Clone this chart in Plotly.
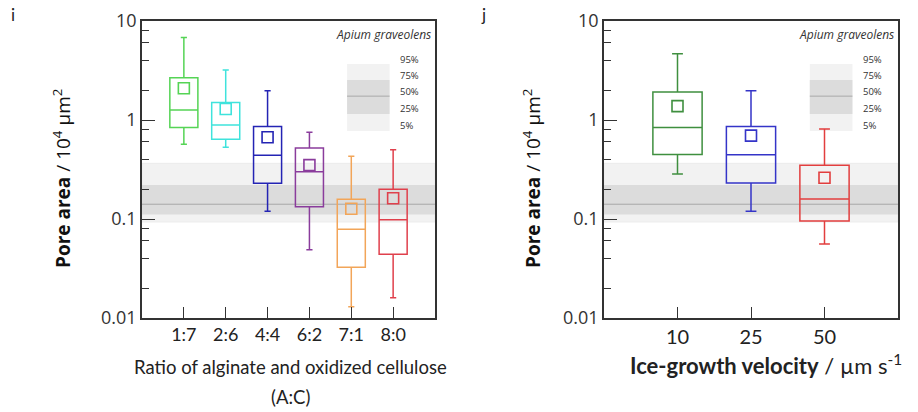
import plotly.graph_objects as go

# ---------------- data ----------------
ratio_labels = ["1:7", "2:6", "4:4", "6:2", "7:1", "8:0"]
ratio_upper = [6.8, 3.2, 1.98, 0.75, 0.43, 0.50]
ratio_q3 = [2.67, 1.50, 0.86, 0.52, 0.158, 0.20]
ratio_median = [1.26, 0.89, 0.44, 0.30, 0.079, 0.098]
ratio_q1 = [0.84, 0.64, 0.23, 0.133, 0.0325, 0.044]
ratio_lower = [0.57, 0.53, 0.12, 0.049, 0.013, 0.016]
ratio_mean = [2.09, 1.29, 0.67, 0.35, 0.127, 0.162]
ratio_colors = ["#55d455", "#3fe3dc", "#2424b4", "#8a3c9c", "#f2a559", "#e0404c"]

velocity_labels = ["10", "25", "50"]
velocity_upper = [4.67, 1.98, 0.81]
velocity_q3 = [1.92, 0.86, 0.35]
velocity_median = [0.84, 0.445, 0.159]
velocity_q1 = [0.447, 0.231, 0.0955]
velocity_lower = [0.285, 0.12, 0.056]
velocity_mean = [1.38, 0.695, 0.261]
velocity_colors = ["#3f8f3f", "#3434c8", "#e23e3e"]

# Apium graveolens reference percentiles: 5%, 25%, 50%, 75%, 95%
ref_labels = ["5%", "25%", "50%", "75%", "95%"]
ref_values = [0.093, 0.111, 0.141, 0.22, 0.365]

y_tick_vals = [0.01, 0.1, 1, 10]
y_tick_text = ["0.01", "0.1", "1", "10"]
y_minor_vals = [m * d for d in (0.01, 0.1, 1) for m in (2, 4, 6, 8)]

W, H = 918, 412
fig = go.Figure()

panels = [
    dict(xa="x", ya="y", labels=ratio_labels, upper=ratio_upper, q3=ratio_q3,
         med=ratio_median, q1=ratio_q1, lower=ratio_lower, mean=ratio_mean,
         colors=ratio_colors, dom=[142 / W, 435 / W], xfs=18),
    dict(xa="x2", ya="y2", labels=velocity_labels, upper=velocity_upper, q3=velocity_q3,
         med=velocity_median, q1=velocity_q1, lower=velocity_lower, mean=velocity_mean,
         colors=velocity_colors, dom=[604 / W, 898 / W], xfs=20),
]

ydom = [1 - 318 / H, 1 - 21 / H]

for p in panels:
    n = len(p["labels"])
    pos = list(range(1, n + 1))
    for i in range(n):
        c = p["colors"][i]
        fig.add_trace(go.Box(
            x=[pos[i]], q1=[p["q1"][i]], median=[p["med"][i]], q3=[p["q3"][i]],
            lowerfence=[p["lower"][i]], upperfence=[p["upper"][i]],
            width=0.67, whiskerwidth=0.22, boxpoints=False,
            line=dict(color=c, width=1.5), fillcolor="rgba(0,0,0,0)",
            xaxis=p["xa"], yaxis=p["ya"], showlegend=False, hoverinfo="skip"))
        fig.add_trace(go.Scatter(
            x=[pos[i]], y=[p["mean"][i]], mode="markers",
            marker=dict(symbol="square-open", size=11, color=c, line=dict(width=1.6, color=c)),
            xaxis=p["xa"], yaxis=p["ya"], showlegend=False, hoverinfo="skip"))

    axn = p["xa"][1:]
    xkey = "xaxis" + axn
    ykey = "yaxis" + axn
    fig.update_layout(**{
        xkey: dict(domain=p["dom"], range=[0, n + 1], tickmode="array", tickvals=pos,
                   ticktext=p["labels"], ticks="inside", ticklen=11, tickwidth=1.3,
                   tickcolor="#333", showline=True, mirror=True, linecolor="#333",
                   linewidth=1.5, showgrid=False, zeroline=False, anchor=p["ya"],
                   automargin=False,
                   tickfont=dict(family="Lato", size=p["xfs"], color="#222")),
        ykey: dict(domain=ydom, type="log", range=[-2, 1], tickmode="array",
                   tickvals=y_tick_vals, ticktext=y_tick_text, ticks="inside",
                   ticklen=13, tickwidth=1.3, tickcolor="#333", showline=True,
                   mirror=True, linecolor="#333", linewidth=1.5, showgrid=False,
                   zeroline=False, anchor=p["xa"], automargin=False,
                   minor=dict(tickmode="array", tickvals=y_minor_vals, ticks="inside",
                              ticklen=7, tickwidth=1.1, tickcolor="#333"),
                   tickfont=dict(family="Open Sans", size=18, color="#333")),
    })

    xr = p["xa"]
    yr = p["ya"]
    # reference bands
    fig.add_shape(type="rect", xref=xr + " domain", yref=yr, x0=0, x1=1,
                  y0=ref_values[0], y1=ref_values[4], fillcolor="#f2f2f2",
                  line=dict(width=0.6, color="#e6e6e6"), layer="below")
    fig.add_shape(type="rect", xref=xr + " domain", yref=yr, x0=0, x1=1,
                  y0=ref_values[1], y1=ref_values[3], fillcolor="#dcdcdc",
                  line=dict(width=0), layer="below")
    fig.add_shape(type="line", xref=xr + " domain", yref=yr, x0=0, x1=1,
                  y0=ref_values[2], y1=ref_values[2], line=dict(color="#a8a8a8", width=1),
                  layer="below")
    # legend key
    key_y = [0.630, 0.687, 0.747, 0.801, 0.855]
    fig.add_shape(type="rect", xref=xr + " domain", yref=yr + " domain", x0=0.70, x1=0.845,
                  y0=key_y[0], y1=key_y[4], fillcolor="#f2f2f2", line=dict(width=0),
                  layer="below")
    fig.add_shape(type="rect", xref=xr + " domain", yref=yr + " domain", x0=0.70, x1=0.845,
                  y0=key_y[1], y1=key_y[3], fillcolor="#dcdcdc", line=dict(width=0),
                  layer="below")
    fig.add_shape(type="line", xref=xr + " domain", yref=yr + " domain", x0=0.70, x1=0.845,
                  y0=key_y[2], y1=key_y[2], line=dict(color="#a8a8a8", width=1),
                  layer="below")
    for lab, ky in zip(ref_labels, key_y):
        fig.add_annotation(xref=xr + " domain", yref=yr + " domain", x=0.874, y=ky + 0.017,
                           text=lab, showarrow=False, xanchor="left", yanchor="middle",
                           font=dict(family="Open Sans", size=9.5, color="#333"))
    fig.add_annotation(xref=xr + " domain", yref=yr + " domain", x=0.993, y=0.956,
                       text="<i>Apium graveolens</i>", showarrow=False, xanchor="right",
                       yanchor="middle", font=dict(family="Open Sans", size=12, color="#333"))

# axis titles and panel letters
ytitle = "<b>Pore area</b> / 10<sup>4</sup> µm<sup>2</sup>"
fig.add_annotation(xref="paper", yref="paper", x=62 / W, y=1 - 179 / H, text=ytitle,
                   textangle=-90, showarrow=False, xanchor="center", yanchor="middle",
                   font=dict(family="Open Sans", size=19, color="#111"))
fig.add_annotation(xref="paper", yref="paper", x=532 / W, y=1 - 179 / H, text=ytitle,
                   textangle=-90, showarrow=False, xanchor="center", yanchor="middle",
                   font=dict(family="Open Sans", size=19, color="#111"))
fig.add_annotation(xref="paper", yref="paper", x=290 / W, y=1 - 367 / H,
                   text="Ratio of alginate and oxidized cellulose",
                   showarrow=False, xanchor="center", yanchor="middle",
                   font=dict(family="Lato", size=18.5, color="#222"))
fig.add_annotation(xref="paper", yref="paper", x=290 / W, y=1 - 397 / H,
                   text="(A:C)",
                   showarrow=False, xanchor="center", yanchor="middle",
                   font=dict(family="Lato", size=18.5, color="#222"))
fig.add_annotation(xref="paper", yref="paper", x=766 / W, y=1 - 364 / H,
                   text="<b>Ice-growth velocity</b> / µm s<sup>-1</sup>",
                   showarrow=False, xanchor="center", yanchor="middle",
                   font=dict(family="Lato", size=22, color="#222"))
fig.add_annotation(xref="paper", yref="paper", x=13 / W, y=1 - 15 / H, text="i",
                   showarrow=False, xanchor="center", yanchor="middle",
                   font=dict(family="Lato", size=17, color="#222"))
fig.add_annotation(xref="paper", yref="paper", x=483 / W, y=1 - 15 / H, text="j",
                   showarrow=False, xanchor="center", yanchor="middle",
                   font=dict(family="Lato", size=17, color="#222"))

fig.update_layout(width=W, height=H, margin=dict(l=0, r=0, t=0, b=0, autoexpand=False),
                  plot_bgcolor="white", paper_bgcolor="white", showlegend=False)

fig.write_html("out.html", config={"displayModeBar": False},
               post_script="document.body.style.margin='0px';")
